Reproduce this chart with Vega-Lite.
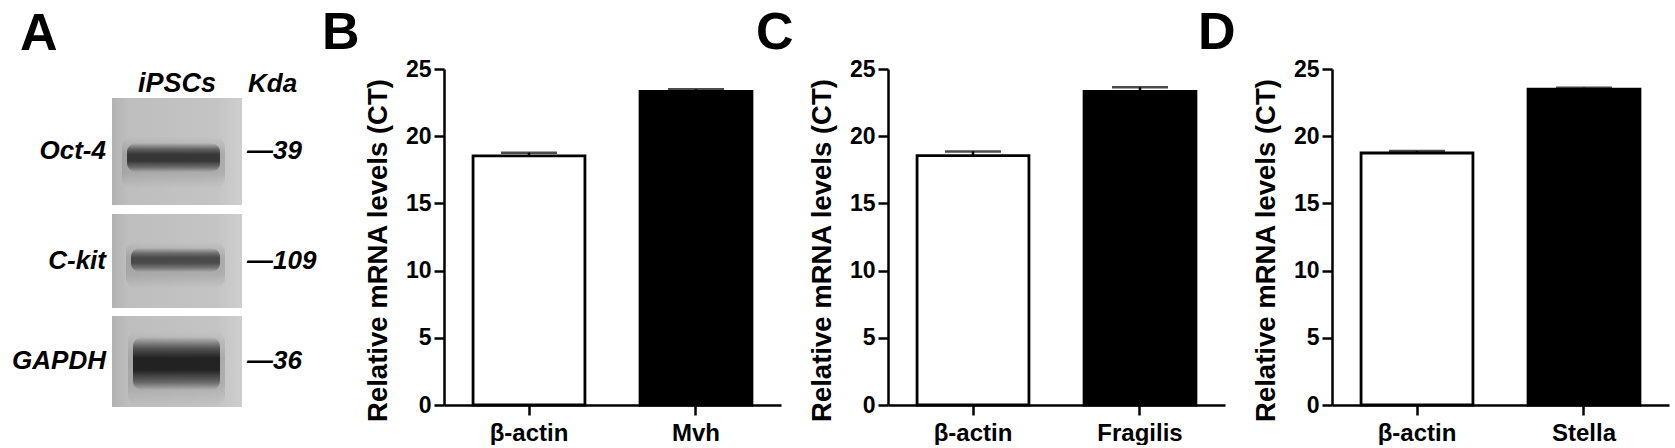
{
  "$schema": "https://vega.github.io/schema/vega-lite/v6.json",
  "background": "white",
  "padding": {"left": 0, "top": 6, "right": 4, "bottom": 0},
  "bounds": "flush",
  "spacing": 107,
  "resolve": {"scale": {"fill": "independent"}},
  "config": {
    "view": {"stroke": null},
    "font": "Liberation Sans"
  },
  "hconcat": [
    {
      "width": 337,
      "height": 336,
      "layer": [
        {
          "data": {"values": [
            {"blot": "Oct-4", "x0": 112, "x1": 242, "y0": 96, "y1": 203},
            {"blot": "C-kit", "x0": 112, "x1": 242, "y0": 212, "y1": 306},
            {"blot": "GAPDH", "x0": 112, "x1": 242, "y0": 314, "y1": 405}
          ]},
          "mark": {"type": "rect", "fill": {"gradient": "linear", "x1": 0, "y1": 0, "x2": 1, "y2": 0, "stops": [
            {"offset": 0, "color": "#b2b2b2"},
            {"offset": 0.12, "color": "#bebebe"},
            {"offset": 0.8, "color": "#c4c4c4"},
            {"offset": 1, "color": "#cecece"}
          ]}},
          "encoding": {
            "x": {"field": "x0", "type": "quantitative", "scale": {"domain": [0, 337], "nice": false, "zero": false}, "axis": null},
            "x2": {"field": "x1"},
            "y": {"field": "y0", "type": "quantitative", "scale": {"domain": [67, 403], "reverse": true, "nice": false, "zero": false}, "axis": null},
            "y2": {"field": "y1"}
          }
        },
        {
          "data": {"values": [
            {"band": "Oct-4", "x0": 127, "x1": 220, "y0": 141, "y1": 170, "intensity": 0.85},
            {"band": "C-kit", "x0": 131, "x1": 220, "y0": 246, "y1": 270, "intensity": 0.7},
            {"band": "GAPDH", "x0": 133, "x1": 220, "y0": 335, "y1": 388, "intensity": 1.0}
          ]},
          "mark": {"type": "rect", "cornerRadius": 10, "xOffset": -5, "x2Offset": 5, "yOffset": -6, "y2Offset": 16, "opacity": 0.4,
            "fill": {"gradient": "linear", "x1": 0, "y1": 0, "x2": 0, "y2": 1, "stops": [
              {"offset": 0, "color": "rgba(80,80,80,0)"},
              {"offset": 0.35, "color": "rgba(80,80,80,0.6)"},
              {"offset": 0.7, "color": "rgba(80,80,80,0.5)"},
              {"offset": 1, "color": "rgba(80,80,80,0)"}
            ]}},
          "encoding": {
            "x": {"field": "x0", "type": "quantitative", "scale": {"domain": [0, 337], "nice": false, "zero": false}, "axis": null},
            "x2": {"field": "x1"},
            "y": {"field": "y0", "type": "quantitative", "scale": {"domain": [67, 403], "reverse": true, "nice": false, "zero": false}, "axis": null},
            "y2": {"field": "y1"}
          }
        },
        {
          "data": {"values": [
            {"band": "Oct-4", "x0": 127, "x1": 220, "y0": 141, "y1": 170, "intensity": 0.85},
            {"band": "C-kit", "x0": 131, "x1": 220, "y0": 246, "y1": 270, "intensity": 0.7},
            {"band": "GAPDH", "x0": 133, "x1": 220, "y0": 335, "y1": 388, "intensity": 1.0}
          ]},
          "mark": {"type": "rect", "cornerRadius": 9,
            "fill": {"gradient": "linear", "x1": 0, "y1": 0, "x2": 0, "y2": 1, "stops": [
              {"offset": 0, "color": "rgba(20,20,20,0)"},
              {"offset": 0.22, "color": "rgba(20,20,20,0.6)"},
              {"offset": 0.4, "color": "rgba(20,20,20,0.9)"},
              {"offset": 0.62, "color": "rgba(20,20,20,0.9)"},
              {"offset": 0.85, "color": "rgba(20,20,20,0.45)"},
              {"offset": 1, "color": "rgba(20,20,20,0)"}
            ]}},
          "encoding": {
            "x": {"field": "x0", "type": "quantitative", "scale": {"domain": [0, 337], "nice": false, "zero": false}, "axis": null},
            "x2": {"field": "x1"},
            "y": {"field": "y0", "type": "quantitative", "scale": {"domain": [67, 403], "reverse": true, "nice": false, "zero": false}, "axis": null},
            "y2": {"field": "y1"},
            "opacity": {"field": "intensity", "type": "quantitative", "scale": null}
          }
        },
        {
          "data": {"values": [
            {"label": "Oct-4", "x": 106, "y": 157},
            {"label": "C-kit", "x": 106, "y": 267},
            {"label": "GAPDH", "x": 106, "y": 367}
          ]},
          "mark": {"type": "text", "align": "right", "baseline": "alphabetic", "font": "Liberation Sans", "fontWeight": "bold", "fontStyle": "italic", "fontSize": 26, "color": "black"},
          "encoding": {
            "x": {"field": "x", "type": "quantitative", "scale": {"domain": [0, 337], "nice": false, "zero": false}, "axis": null},
            "y": {"field": "y", "type": "quantitative", "scale": {"domain": [67, 403], "reverse": true, "nice": false, "zero": false}, "axis": null},
            "text": {"field": "label"}
          }
        },
        {
          "data": {"values": [
            {"label": "—39", "x": 247, "y": 157},
            {"label": "—109", "x": 247, "y": 267},
            {"label": "—36", "x": 247, "y": 367},
            {"label": "Kda", "x": 248, "y": 90}
          ]},
          "mark": {"type": "text", "align": "left", "baseline": "alphabetic", "font": "Liberation Sans", "fontWeight": "bold", "fontStyle": "italic", "fontSize": 26, "color": "black"},
          "encoding": {
            "x": {"field": "x", "type": "quantitative", "scale": {"domain": [0, 337], "nice": false, "zero": false}, "axis": null},
            "y": {"field": "y", "type": "quantitative", "scale": {"domain": [67, 403], "reverse": true, "nice": false, "zero": false}, "axis": null},
            "text": {"field": "label"}
          }
        },
        {
          "data": {"values": [
            {"label": "iPSCs", "x": 177, "y": 90}
          ]},
          "mark": {"type": "text", "align": "center", "baseline": "alphabetic", "font": "Liberation Sans", "fontWeight": "bold", "fontStyle": "italic", "fontSize": 27, "color": "black"},
          "encoding": {
            "x": {"field": "x", "type": "quantitative", "scale": {"domain": [0, 337], "nice": false, "zero": false}, "axis": null},
            "y": {"field": "y", "type": "quantitative", "scale": {"domain": [67, 403], "reverse": true, "nice": false, "zero": false}, "axis": null},
            "text": {"field": "label"}
          }
        },
        {
          "data": {"values": [
            {"label": "A", "x": 20, "y": 47.5}
          ]},
          "mark": {"type": "text", "align": "left", "baseline": "alphabetic", "font": "Liberation Sans", "fontWeight": "bold", "fontSize": 52, "color": "black"},
          "encoding": {
            "x": {"field": "x", "type": "quantitative", "scale": {"domain": [0, 337], "nice": false, "zero": false}, "axis": null},
            "y": {"field": "y", "type": "quantitative", "scale": {"domain": [67, 403], "reverse": true, "nice": false, "zero": false}, "axis": null},
            "text": {"field": "label"}
          }
        }
      ]
    },
    {
      "width": 337,
      "height": 336,
      "title": {"text": "B", "anchor": "start", "frame": "group", "dx": -122, "offset": -42.5, "fontSize": 52, "fontWeight": "bold", "font": "Liberation Sans", "color": "black", "baseline": "alphabetic"},
      "data": {"values": [
        {"gene": "β-actin", "ct": 18.53, "upper": 18.77},
        {"gene": "Mvh", "ct": 23.34, "upper": 23.49}
      ]},
      "encoding": {
        "x": {"field": "gene", "type": "nominal", "sort": null, "scale": {"paddingInner": 0.33, "paddingOuter": 0.174},
          "axis": {"title": null, "labelAngle": 0, "labelFont": "Liberation Sans", "labelFontSize": 24, "labelFontWeight": "bold", "labelColor": "black", "labelPadding": 6, "tickSize": 10, "tickWidth": 2.5, "tickColor": "black", "domainColor": "black", "domainWidth": 2.5}}
      },
      "layer": [
        {
          "mark": {"type": "bar", "stroke": "black", "strokeWidth": 2.8},
          "encoding": {
            "y": {"field": "ct", "type": "quantitative", "scale": {"domain": [0, 25], "nice": false},
              "axis": {"values": [0, 5, 10, 15, 20, 25], "grid": false, "title": "Relative mRNA levels (CT)", "titleFont": "Liberation Sans", "titleFontSize": 27.5, "titleFontWeight": "bold", "titleColor": "black", "titleX": -52, "titleY": 181, "titleBaseline": "bottom", "titleAlign": "center", "titleLimit": 1000, "labelFont": "Liberation Sans", "labelFontSize": 23, "labelFontWeight": "bold", "labelColor": "black", "labelPadding": 3, "labelFlush": false, "tickSize": 10, "tickWidth": 2.5, "tickColor": "black", "domainColor": "black", "domainWidth": 2.5}},
            "fill": {"field": "gene", "type": "nominal", "scale": {"domain": ["β-actin", "Mvh"], "range": ["white", "black"]}, "legend": null}
          }
        },
        {
          "mark": {"type": "rule", "color": "black", "strokeWidth": 2.5},
          "encoding": {"y": {"field": "ct", "type": "quantitative"}, "y2": {"field": "upper"}}
        },
        {
          "mark": {"type": "tick", "color": "black", "thickness": 2.5, "size": 56},
          "encoding": {"y": {"field": "upper", "type": "quantitative"}}
        }
      ]
    },
    {
      "width": 337,
      "height": 336,
      "title": {"text": "C", "anchor": "start", "frame": "group", "dx": -132, "offset": -42.5, "fontSize": 52, "fontWeight": "bold", "font": "Liberation Sans", "color": "black", "baseline": "alphabetic"},
      "data": {"values": [
        {"gene": "β-actin", "ct": 18.55, "upper": 18.87},
        {"gene": "Fragilis", "ct": 23.34, "upper": 23.64}
      ]},
      "encoding": {
        "x": {"field": "gene", "type": "nominal", "sort": null, "scale": {"paddingInner": 0.33, "paddingOuter": 0.174},
          "axis": {"title": null, "labelAngle": 0, "labelFont": "Liberation Sans", "labelFontSize": 24, "labelFontWeight": "bold", "labelColor": "black", "labelPadding": 6, "tickSize": 10, "tickWidth": 2.5, "tickColor": "black", "domainColor": "black", "domainWidth": 2.5}}
      },
      "layer": [
        {
          "mark": {"type": "bar", "stroke": "black", "strokeWidth": 2.8},
          "encoding": {
            "y": {"field": "ct", "type": "quantitative", "scale": {"domain": [0, 25], "nice": false},
              "axis": {"values": [0, 5, 10, 15, 20, 25], "grid": false, "title": "Relative mRNA levels (CT)", "titleFont": "Liberation Sans", "titleFontSize": 27.5, "titleFontWeight": "bold", "titleColor": "black", "titleX": -52, "titleY": 181, "titleBaseline": "bottom", "titleAlign": "center", "titleLimit": 1000, "labelFont": "Liberation Sans", "labelFontSize": 23, "labelFontWeight": "bold", "labelColor": "black", "labelPadding": 3, "labelFlush": false, "tickSize": 10, "tickWidth": 2.5, "tickColor": "black", "domainColor": "black", "domainWidth": 2.5}},
            "fill": {"field": "gene", "type": "nominal", "scale": {"domain": ["β-actin", "Fragilis"], "range": ["white", "black"]}, "legend": null}
          }
        },
        {
          "mark": {"type": "rule", "color": "black", "strokeWidth": 2.5},
          "encoding": {"y": {"field": "ct", "type": "quantitative"}, "y2": {"field": "upper"}}
        },
        {
          "mark": {"type": "tick", "color": "black", "thickness": 2.5, "size": 56},
          "encoding": {"y": {"field": "upper", "type": "quantitative"}}
        }
      ]
    },
    {
      "width": 337,
      "height": 336,
      "title": {"text": "D", "anchor": "start", "frame": "group", "dx": -134, "offset": -42.5, "fontSize": 52, "fontWeight": "bold", "font": "Liberation Sans", "color": "black", "baseline": "alphabetic"},
      "data": {"values": [
        {"gene": "β-actin", "ct": 18.75, "upper": 18.9},
        {"gene": "Stella", "ct": 23.51, "upper": 23.61}
      ]},
      "encoding": {
        "x": {"field": "gene", "type": "nominal", "sort": null, "scale": {"paddingInner": 0.33, "paddingOuter": 0.174},
          "axis": {"title": null, "labelAngle": 0, "labelFont": "Liberation Sans", "labelFontSize": 24, "labelFontWeight": "bold", "labelColor": "black", "labelPadding": 6, "tickSize": 10, "tickWidth": 2.5, "tickColor": "black", "domainColor": "black", "domainWidth": 2.5}}
      },
      "layer": [
        {
          "mark": {"type": "bar", "stroke": "black", "strokeWidth": 2.8},
          "encoding": {
            "y": {"field": "ct", "type": "quantitative", "scale": {"domain": [0, 25], "nice": false},
              "axis": {"values": [0, 5, 10, 15, 20, 25], "grid": false, "title": "Relative mRNA levels (CT)", "titleFont": "Liberation Sans", "titleFontSize": 27.5, "titleFontWeight": "bold", "titleColor": "black", "titleX": -52, "titleY": 181, "titleBaseline": "bottom", "titleAlign": "center", "titleLimit": 1000, "labelFont": "Liberation Sans", "labelFontSize": 23, "labelFontWeight": "bold", "labelColor": "black", "labelPadding": 3, "labelFlush": false, "tickSize": 10, "tickWidth": 2.5, "tickColor": "black", "domainColor": "black", "domainWidth": 2.5}},
            "fill": {"field": "gene", "type": "nominal", "scale": {"domain": ["β-actin", "Stella"], "range": ["white", "black"]}, "legend": null}
          }
        },
        {
          "mark": {"type": "rule", "color": "black", "strokeWidth": 2.5},
          "encoding": {"y": {"field": "ct", "type": "quantitative"}, "y2": {"field": "upper"}}
        },
        {
          "mark": {"type": "tick", "color": "black", "thickness": 2.5, "size": 56},
          "encoding": {"y": {"field": "upper", "type": "quantitative"}}
        }
      ]
    }
  ]
}
